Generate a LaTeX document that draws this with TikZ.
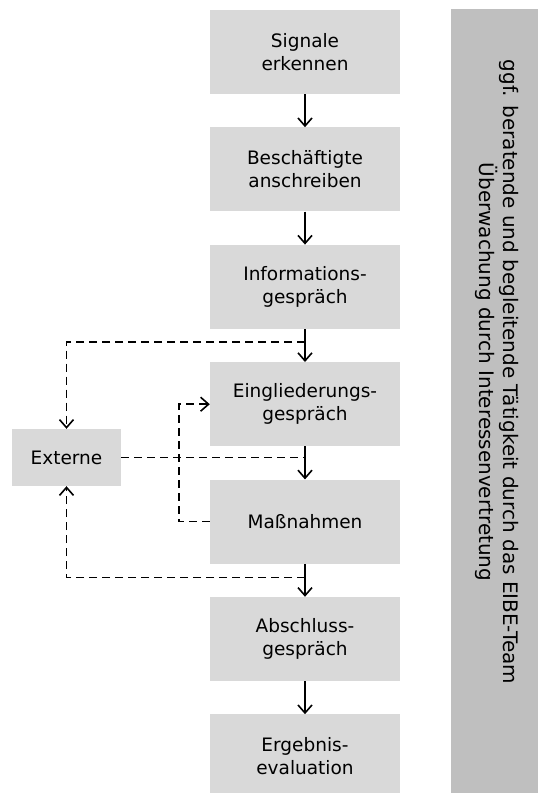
\documentclass[tikz,border=0pt]{standalone}
\usepackage{fontspec}
\setmainfont{DejaVu Sans}
\usetikzlibrary{positioning}
\usetikzlibrary{calc}
\usetikzlibrary{arrows.meta}
\definecolor{boxgray}{RGB}{217,217,217}
\definecolor{bargray}{RGB}{191,191,191}

\begin{document}
\begin{tikzpicture}[x=1pt, y=-1pt,
  stage/.style={fill=boxgray, minimum width=190pt, minimum height=84pt,
    inner sep=0pt, align=center, font=\fontsize{18.5}{23}\selectfont},
  flow/.style={-{Straight Barb[length=8pt,width=14pt]}, line width=1.6pt},
  extflow/.style={flow, dash pattern=on 8pt off 5pt},
  extline/.style={line width=1.6pt, dash pattern=on 8pt off 5pt}]

\useasboundingbox (0,0) rectangle (538,793);

%---------------------------------------
% Main chain of steps
%---------------------------------------
\def\gap{33pt}
\node[stage] (signal) at (305,52) {Signale\\erkennen};
\node[stage, below=\gap of signal] (anschr) {Beschäftigte\\anschreiben};
\node[stage, below=\gap of anschr] (info) {Informations-\\gespräch};
\node[stage, below=\gap of info] (eing) {Eingliederungs-\\gespräch};
\node[stage, below=\gap of eing] (mass) {Maßnahmen};
\node[stage, below=\gap of mass] (absch) {Abschluss-\\gespräch};
\node[stage, below=\gap of absch] (eval) {Ergebnis-\\evaluation};

% External partners
\node[stage, minimum width=109pt, minimum height=57pt] (extern) at (66.5,457.5) {Externe};

% Side bar
\node[fill=bargray, minimum width=87pt, minimum height=784pt, inner sep=0pt] (bar) at (494.5,401) {};
\node[rotate=-90, align=center, font=\fontsize{20}{22}\selectfont] (team) at (497,372)
  {ggf. beratende und begleitende Tätigkeit durch das EIBE-Team\\
   Überwachung durch Interessenvertretung};

%---------------------------------------
% Dashed links to Externe
%---------------------------------------
\coordinate (split1) at ($(info.south)!0.4!(eing.north)$);
\coordinate (split2) at ($(mass.south)!0.42!(absch.north)$);

\draw[extflow] (split1) -| (extern.north);
\draw[extline] (extern.east) -- (extern.east -| eing.south);
\draw[extflow] (split2) -| (extern.south);
\draw[extflow] (mass.west) -- ++(-31,0) |- (eing.west);

% Solid arrows
\draw[flow] (signal) -- (anschr);
\draw[flow] (anschr) -- (info);
\draw[flow] (info) -- (eing);
\draw[flow] (eing) -- (mass);
\draw[flow] (mass) -- (absch);
\draw[flow] (absch) -- (eval);

\end{tikzpicture}
\end{document}
